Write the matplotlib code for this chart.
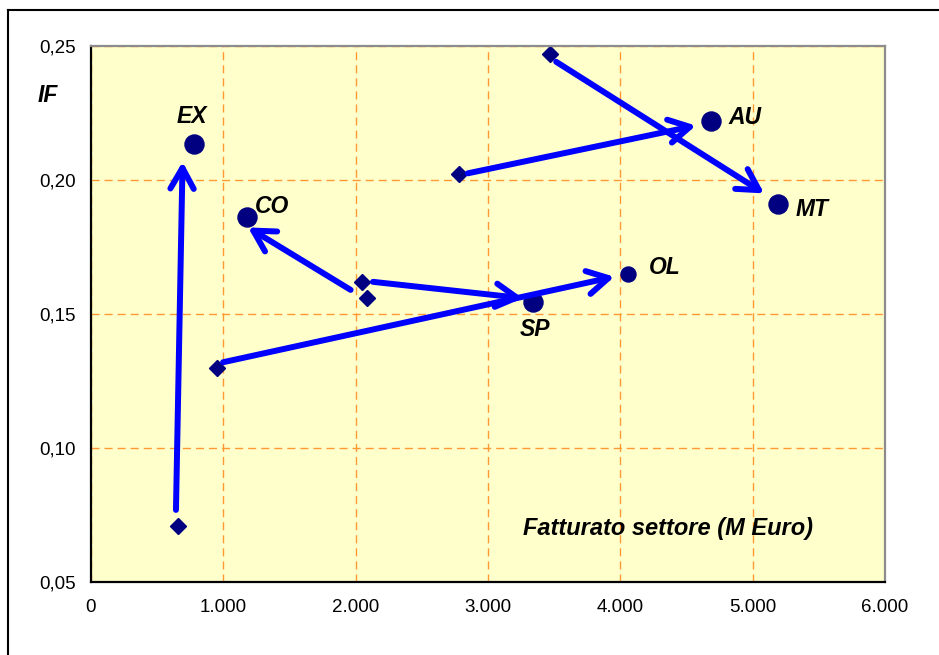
import matplotlib
matplotlib.use("Agg")
import matplotlib.pyplot as plt
from matplotlib.lines import Line2D

# --- data -----------------------------------------------------------------
sectors = ["EX", "CO", "SP", "OL", "AU", "MT"]
sector_x = [775, 1177, 3343, 4055, 4687, 5190]          # fatturato (M Euro)
sector_y = [0.2134, 0.1861, 0.1546, 0.1648, 0.2221, 0.1909]  # IF
sector_big = [True, True, True, False, True, True]

start_x = [659, 953, 2048, 2083, 2780, 3469]
start_y = [0.0709, 0.130, 0.162, 0.1559, 0.2021, 0.247]

arrow_from_x = [642, 1962, 2131, 998, 2848, 3515]
arrow_from_y = [0.0769, 0.159, 0.162, 0.132, 0.2025, 0.2441]
arrow_to_x = [692, 1187, 3263, 3955, 4571, 5087]
arrow_to_y = [0.2068, 0.1823, 0.1559, 0.1639, 0.2203, 0.195]

x_ticks = [0, 1000, 2000, 3000, 4000, 5000, 6000]
x_tick_labels = ["0", "1.000", "2.000", "3.000", "4.000", "5.000", "6.000"]
y_ticks = [0.05, 0.10, 0.15, 0.20, 0.25]
y_tick_labels = ["0,05", "0,10", "0,15", "0,20", "0,25"]

# label offsets (points) relative to each sector marker
label_offsets = {"EX": (-1, 20), "CO": (18, 8), "SP": (1, -20),
                 "OL": (27, 5), "AU": (24, 2), "MT": (25, -4)}

# --- figure ---------------------------------------------------------------
plt.rcParams["font.family"] = ["Liberation Sans", "DejaVu Sans"]
W, H = 939, 655
fig = plt.figure(figsize=(W / 100, H / 100), dpi=100)
ax = fig.add_axes([91 / W, 1 - 582 / H, (885 - 91) / W, (582 - 46) / H])
ax.set_facecolor("#FFFFCC")

ax.set_xlim(0, 6000)
ax.set_ylim(0.05, 0.25)
ax.set_xticks(x_ticks)
ax.set_xticklabels(x_tick_labels)
ax.set_yticks(y_ticks)
ax.set_yticklabels(y_tick_labels)
ax.tick_params(length=0, labelsize=13.5, colors="#000000")
ax.tick_params(axis="y", pad=11)
ax.tick_params(axis="x", pad=12)

ax.grid(True, color="#FF9933", lw=1.0, linestyle=(0, (5.8, 3.6)))
ax.set_axisbelow(True)

for side in ("left", "bottom"):
    ax.spines[side].set_color("#000000")
    ax.spines[side].set_linewidth(1.6)
for side in ("top", "right"):
    ax.spines[side].set_color("#8C8C8C")
    ax.spines[side].set_linewidth(1.6)

navy = "#000080"
ax.plot(start_x, start_y, linestyle="none", marker="D", ms=7.8,
        color=navy, zorder=2, clip_on=False)
for sx, sy, big in zip(sector_x, sector_y, sector_big):
    ax.plot([sx], [sy], linestyle="none", marker="o",
            ms=13.7 if big else 10.8, color=navy, zorder=2)

for x0, y0, x1, y1 in zip(arrow_from_x, arrow_from_y, arrow_to_x, arrow_to_y):
    ax.annotate("", xy=(x1, y1), xytext=(x0, y0),
                arrowprops=dict(arrowstyle="->,head_length=0.75,head_width=0.42",
                                lw=4.3, color="#0000FF", mutation_scale=20,
                                shrinkA=0, shrinkB=0),
                zorder=3)

label_font = dict(fontsize=16.5, fontweight="bold", fontstyle="italic",
                  color="#000000", ha="center", va="center")
for name, sx, sy in zip(sectors, sector_x, sector_y):
    ax.annotate(name, xy=(sx, sy), xytext=label_offsets[name],
                textcoords="offset points", zorder=4, **label_font)

ax.text(0.7267, 0.099, "Fatturato settore (M Euro)", transform=ax.transAxes,
        fontsize=17, fontweight="bold", fontstyle="italic",
        ha="center", va="center")
fig.text(48 / W, 1 - 96 / H, "IF", fontsize=16.5, fontweight="bold",
         fontstyle="italic", ha="center", va="center")

# outer chart frame
fig.add_artist(Line2D([8 / W, 8 / W], [-0.05, 1 - 10 / H],
                      transform=fig.transFigure, color="#000000", lw=1.5))
fig.add_artist(Line2D([8 / W, 1.05], [1 - 10 / H, 1 - 10 / H],
                      transform=fig.transFigure, color="#000000", lw=1.5))

fig.savefig("out.png", dpi=100, facecolor="white")
